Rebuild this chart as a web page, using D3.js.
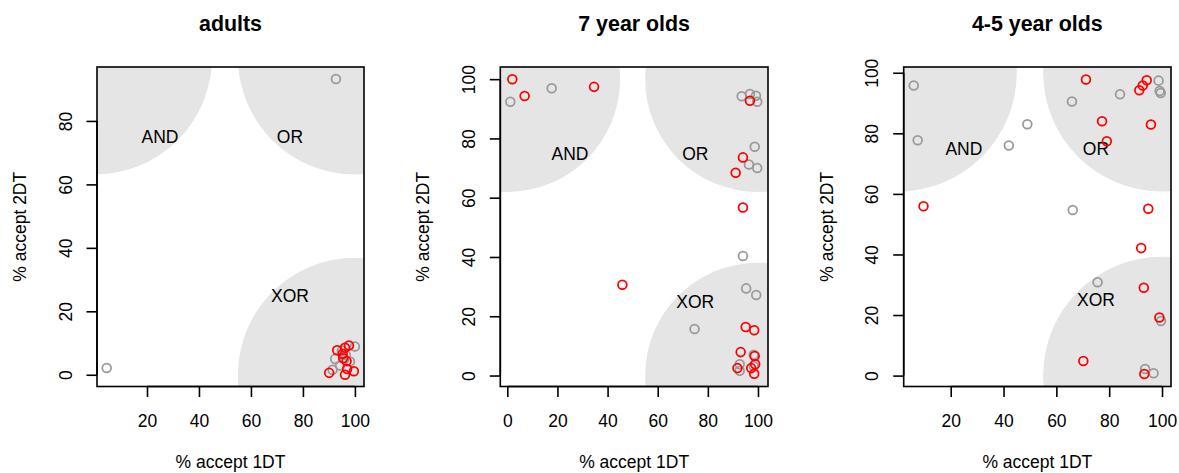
<!DOCTYPE html>
<html>
<head>
<meta charset="utf-8">
<script src="https://cdn.jsdelivr.net/npm/d3@7"></script>
<style>
  html, body { margin: 0; padding: 0; background: #fff; }
  svg { display: block; font-family: "Liberation Sans", Arial, Helvetica, sans-serif; }
</style>
</head>
<body>
<svg id="chart" width="1179" height="473"></svg>
<script>
// ---------------- data ----------------
const panelTitles = ["adults", "7 year olds", "4-5 year olds"];
const xLabel = "% accept 1DT";
const yLabel = "% accept 2DT";

const regionLabels = ["AND", "OR", "XOR"];
const regionCenters = [[0, 100], [100, 100], [100, 0]];   // corners of shaded regions
const regionLabelPos = [[25, 75], [75, 75], [75, 25]];
const regionRadius = 45;                                     // in x-axis units

// axis limits (data range with R's 4% expansion)
const xLimits = [[0.77, 103.5], [-2.8, 104.0], [2.2, 103.4]];
const yLimits = [[-3.7, 97.0], [-3.7, 104.1], [-3.6, 101.9]];

const xTicks = [[20, 40, 60, 80, 100], [0, 20, 40, 60, 80, 100], [20, 40, 60, 80, 100]];
const yTicks = [[0, 20, 40, 60, 80], [0, 20, 40, 60, 80, 100], [0, 20, 40, 60, 80, 100]];

// adults
const adultsGrey = [[92.7, 93.2], [4.5, 2.1], [100, 8.9], [92.4, 5.0], [91.4, 1.6], [94.3, 2.9],
  [98.1, 4.2], [96.0, 5.0], [95.0, 7.6], [96.5, 6.2]];
const adultsRed = [[93.2, 7.7], [96.2, 8.5], [97.7, 9.2], [90.1, 0.6], [96.2, 0.0], [99.6, 1.1],
  [95.3, 6.6], [95.5, 5.2], [96.8, 4.3], [97.0, 1.8]];

// 7 year olds
const sevenGrey = [[1.2, 92.4], [17.7, 96.9], [74.7, 15.7], [94.0, 40.3], [96.4, 71.2], [98.7, 77.2],
  [99.7, 70.0], [93.5, 94.2], [96.8, 95.0], [99.2, 94.4], [99.7, 92.4], [95.3, 29.4], [99.3, 27.2],
  [98.3, 7.0], [92.7, 3.8], [92.7, 1.6], [98.3, 3.2]];
const sevenRed = [[2.0, 100], [6.9, 94.3], [34.6, 97.4], [45.9, 30.6], [94.0, 56.7], [94.0, 73.6],
  [91.1, 68.4], [96.8, 92.7], [95.1, 16.4], [98.5, 15.3], [93.1, 7.9], [98.7, 6.6], [98.9, 3.8],
  [98.5, 0.6], [91.8, 2.5], [97.3, 2.5]];

// 4-5 year olds
const youngGrey = [[6.0, 95.8], [7.5, 77.7], [42.0, 76.0], [49.0, 83.0], [65.9, 90.5], [66.2, 54.7],
  [84.1, 92.9], [98.7, 97.4], [99.1, 94.0], [99.5, 93.3], [75.6, 30.8], [99.6, 18.0], [93.6, 2.2],
  [96.8, 0.8]];
const youngRed = [[9.7, 55.9], [71.2, 97.8], [77.3, 84.0], [79.1, 77.4], [95.8, 82.9], [91.4, 94.2],
  [92.7, 95.8], [94.2, 97.5], [94.8, 55.1], [92.1, 42.1], [93.1, 29.0], [99.0, 19.2], [70.2, 4.8],
  [93.3, 0.5]];

const greySeries = [adultsGrey, sevenGrey, youngGrey];
const redSeries = [adultsRed, sevenRed, youngRed];

// ---------------- layout ----------------
const boxes = [
  { left: 97, right: 364, top: 67, bottom: 386.5 },
  { left: 500.3, right: 768, top: 67, bottom: 386.5 },
  { left: 903.7, right: 1171, top: 67, bottom: 386.5 }
];
const FS = 17.5;
const GREY = "#999999", RED = "#ff0000", SHADE = "#e5e5e5";
const PR = 4.4, PW = 1.75;

const svg = d3.select("#chart");

boxes.forEach((b, i) => {
  const x = d3.scaleLinear().domain(xLimits[i]).range([b.left, b.right]);
  const y = d3.scaleLinear().domain(yLimits[i]).range([b.bottom, b.top]);
  const g = svg.append("g");
  const clipId = "clip" + i;
  svg.append("clipPath").attr("id", clipId).append("rect")
    .attr("x", b.left).attr("y", b.top).attr("width", b.right - b.left).attr("height", b.bottom - b.top);

  const rPx = x(regionRadius) - x(0);
  g.append("g").attr("clip-path", `url(#${clipId})`)
    .selectAll("circle").data(regionCenters).join("circle")
    .attr("cx", d => x(d[0])).attr("cy", d => y(d[1])).attr("r", rPx)
    .attr("fill", SHADE);

  g.selectAll("text.region").data(regionLabels).join("text")
    .attr("class", "region")
    .attr("x", (d, k) => x(regionLabelPos[k][0]))
    .attr("y", (d, k) => y(regionLabelPos[k][1]) + 6.3)
    .attr("text-anchor", "middle").attr("font-size", FS).attr("fill", "#000")
    .text(d => d);

  const pts = g.append("g").attr("clip-path", `url(#${clipId})`);
  pts.selectAll("circle.grey").data(greySeries[i]).join("circle")
    .attr("class", "grey")
    .attr("cx", d => x(d[0])).attr("cy", d => y(d[1])).attr("r", PR)
    .attr("fill", "none").attr("stroke", GREY).attr("stroke-width", PW);
  pts.selectAll("circle.red").data(redSeries[i]).join("circle")
    .attr("class", "red")
    .attr("cx", d => x(d[0])).attr("cy", d => y(d[1])).attr("r", PR)
    .attr("fill", "none").attr("stroke", RED).attr("stroke-width", PW);

  // axes
  const xAxis = d3.axisBottom(x).tickValues(xTicks[i]).tickSize(10.5).tickPadding(15).tickSizeOuter(0);
  const xa = g.append("g").attr("transform", `translate(0,${b.bottom})`).call(xAxis);
  xa.select(".domain")
    .attr("d", `M${x(xTicks[i][0])},0H${x(xTicks[i][xTicks[i].length - 1])}`)
    .attr("stroke-width", 1.6);
  xa.selectAll(".tick line").attr("stroke-width", 1.6);
  xa.selectAll(".tick text").attr("font-size", FS).attr("font-family", null)
    .attr("dy", null).attr("y", 426.7 - b.bottom).attr("fill", "#000");

  const yAxis = d3.axisLeft(y).tickValues(yTicks[i]).tickSize(10.5).tickSizeOuter(0);
  const ya = g.append("g").attr("transform", `translate(${b.left},0)`).call(yAxis);
  ya.select(".domain")
    .attr("d", `M0,${y(yTicks[i][0])}V${y(yTicks[i][yTicks[i].length - 1])}`)
    .attr("stroke-width", 1.6);
  ya.selectAll(".tick line").attr("stroke-width", 1.6);
  ya.selectAll(".tick text").attr("font-size", FS).attr("font-family", null)
    .attr("x", null).attr("dy", null).attr("fill", "#000")
    .attr("text-anchor", "middle")
    .attr("transform", "translate(-25.3,0) rotate(-90)");

  // box
  g.append("rect").attr("x", b.left).attr("y", b.top)
    .attr("width", b.right - b.left).attr("height", b.bottom - b.top)
    .attr("fill", "none").attr("stroke", "#000").attr("stroke-width", 1.6);

  // titles
  const cx = (b.left + b.right) / 2;
  const cy = (b.top + b.bottom) / 2;
  g.append("text").attr("x", cx).attr("y", 30.7).attr("text-anchor", "middle")
    .attr("font-size", 21.4).attr("font-weight", "bold").text(panelTitles[i]);
  g.append("text").attr("x", cx).attr("y", 468.3).attr("text-anchor", "middle")
    .attr("font-size", FS).text(xLabel);
  g.append("text").attr("transform", `translate(${b.left - 71},${cy}) rotate(-90)`)
    .attr("text-anchor", "middle").attr("font-size", FS).text(yLabel);
});
</script>
</body>
</html>
